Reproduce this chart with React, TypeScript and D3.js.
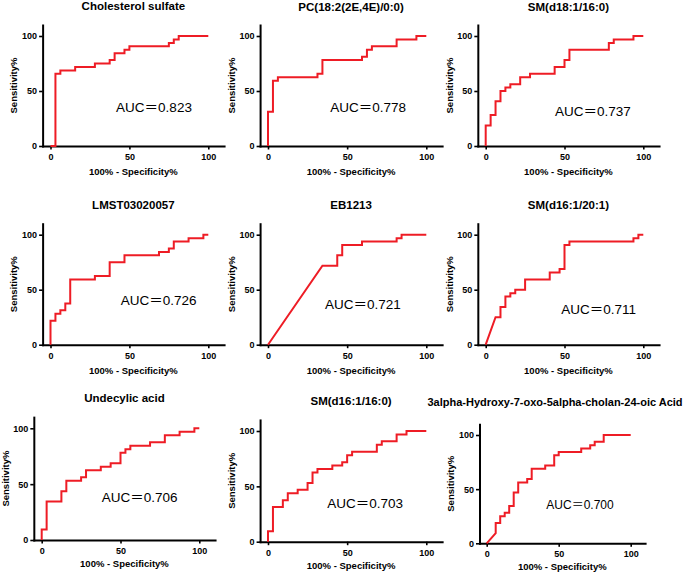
import React, { useEffect, useRef } from 'react';
import * as d3 from 'd3';

// ROC points: x = 100% - specificity%, y = sensitivity%
const cholesterolFpr = [0, 3.13, 3.13, 6.25, 6.25, 15.63, 15.63, 28.13, 28.13, 37.5, 37.5, 40.63, 40.63, 46.88, 46.88, 50, 50, 75, 75, 78.13, 78.13, 81.25, 81.25, 100];
const cholesterolTpr = [0, 0, 65.63, 65.63, 68.75, 68.75, 71.88, 71.88, 75, 75, 78.13, 78.13, 84.38, 84.38, 87.5, 87.5, 90.63, 90.63, 93.75, 93.75, 96.88, 96.88, 100, 100];

const pcFpr = [0, 0, 3.13, 3.13, 6.25, 6.25, 31.25, 31.25, 34.38, 34.38, 59.38, 59.38, 62.5, 62.5, 65.63, 65.63, 81.25, 81.25, 93.75, 93.75, 100];
const pcTpr = [0, 31.25, 31.25, 59.38, 59.38, 62.5, 62.5, 65.63, 65.63, 78.13, 78.13, 81.25, 81.25, 87.5, 87.5, 90.63, 90.63, 96.88, 96.88, 100, 100];

const sm181Fpr = [0, 0, 3.13, 3.13, 6.25, 6.25, 9.38, 9.38, 12.5, 12.5, 15.63, 15.63, 21.88, 21.88, 28.13, 28.13, 43.75, 43.75, 50, 50, 53.13, 53.13, 78.13, 78.13, 81.25, 81.25, 93.75, 93.75, 100];
const sm181Tpr = [0, 18.75, 18.75, 28.13, 28.13, 40.63, 40.63, 50, 50, 53.13, 53.13, 56.25, 56.25, 62.5, 62.5, 65.63, 65.63, 71.88, 71.88, 78.13, 78.13, 87.5, 87.5, 93.75, 93.75, 96.88, 96.88, 100, 100];

const lmstFpr = [0, 0, 3.13, 3.13, 6.25, 6.25, 9.38, 9.38, 12.5, 12.5, 28.13, 28.13, 37.5, 37.5, 46.88, 46.88, 68.75, 68.75, 75, 75, 78.13, 78.13, 87.5, 87.5, 96.88, 96.88, 100];
const lmstTpr = [0, 21.88, 21.88, 28.13, 28.13, 31.25, 31.25, 37.5, 37.5, 59.38, 59.38, 62.5, 62.5, 75, 75, 81.25, 81.25, 84.38, 84.38, 87.5, 87.5, 93.75, 93.75, 96.88, 96.88, 100, 100];

const ebFpr = [0, 34.38, 43.75, 43.75, 46.88, 46.88, 59.38, 59.38, 81.25, 81.25, 84.38, 84.38, 100];
const ebTpr = [0, 71.88, 71.88, 81.25, 81.25, 90.63, 90.63, 93.75, 93.75, 96.88, 96.88, 100, 100];

const sm161201Fpr = [0, 6.25, 9.38, 9.38, 12.5, 12.5, 15.63, 15.63, 18.75, 18.75, 25, 25, 40.63, 40.63, 46.88, 46.88, 50, 50, 53.13, 53.13, 93.75, 93.75, 96.88, 96.88, 100];
const sm161201Tpr = [0, 25, 25, 34.38, 34.38, 43.75, 43.75, 46.88, 46.88, 50, 50, 59.38, 59.38, 65.63, 65.63, 68.75, 68.75, 90.63, 90.63, 93.75, 93.75, 96.88, 96.88, 100, 100];

const undecylicFpr = [0, 0, 3.13, 3.13, 12.5, 12.5, 15.63, 15.63, 25, 25, 28.13, 28.13, 37.5, 37.5, 43.75, 43.75, 50, 50, 53.13, 53.13, 56.25, 56.25, 68.75, 68.75, 78.13, 78.13, 87.5, 87.5, 96.88, 96.88, 100];
const undecylicTpr = [0, 9.38, 9.38, 34.38, 34.38, 43.75, 43.75, 53.13, 53.13, 56.25, 56.25, 62.5, 62.5, 65.63, 65.63, 68.75, 68.75, 78.13, 78.13, 81.25, 81.25, 84.38, 84.38, 87.5, 87.5, 93.75, 93.75, 96.88, 96.88, 100, 100];

const sm161160Fpr = [0, 0, 3.13, 3.13, 9.38, 9.38, 12.5, 12.5, 18.75, 18.75, 25, 25, 28.13, 28.13, 31.25, 31.25, 40.63, 40.63, 46.88, 46.88, 50, 50, 53.13, 53.13, 68.75, 68.75, 71.88, 71.88, 81.25, 81.25, 87.5, 87.5, 100];
const sm161160Tpr = [0, 9.38, 9.38, 31.25, 31.25, 37.5, 37.5, 43.75, 43.75, 46.88, 46.88, 53.13, 53.13, 62.5, 62.5, 65.63, 65.63, 68.75, 68.75, 71.88, 71.88, 78.13, 78.13, 81.25, 81.25, 87.5, 87.5, 90.63, 90.63, 96.88, 96.88, 100, 100];

const cholanFpr = [0, 6.25, 6.25, 9.38, 9.38, 12.5, 12.5, 15.63, 15.63, 18.75, 18.75, 21.88, 21.88, 28.13, 28.13, 31.25, 31.25, 40.63, 40.63, 46.88, 46.88, 50, 50, 65.63, 65.63, 71.88, 71.88, 75, 75, 81.25, 81.25, 100];
const cholanTpr = [0, 9.38, 18.75, 18.75, 25, 25, 28.13, 28.13, 34.38, 34.38, 46.88, 46.88, 56.25, 56.25, 59.38, 59.38, 68.75, 68.75, 71.88, 71.88, 81.25, 81.25, 84.38, 84.38, 87.5, 87.5, 90.63, 90.63, 93.75, 93.75, 100, 100];

const titles = [
  'Cholesterol sulfate',
  'PC(18:2(2E,4E)/0:0)',
  'SM(d18:1/16:0)',
  'LMST03020057',
  'EB1213',
  'SM(d16:1/20:1)',
  'Undecylic acid',
  'SM(d16:1/16:0)',
  '3alpha-Hydroxy-7-oxo-5alpha-cholan-24-oic Acid',
];
const aucValues = ['0.823', '0.778', '0.737', '0.726', '0.721', '0.711', '0.706', '0.703', '0.700'];
const fprSeries = [cholesterolFpr, pcFpr, sm181Fpr, lmstFpr, ebFpr, sm161201Fpr, undecylicFpr, sm161160Fpr, cholanFpr];
const tprSeries = [cholesterolTpr, pcTpr, sm181Tpr, lmstTpr, ebTpr, sm161201Tpr, undecylicTpr, sm161160Tpr, cholanTpr];
const tickValues = [0, 50, 100];

// where each small plot sits on the page (pixel of x=0, width of 100%, pixel of y=0, height of 100%)
const layout = [
  { x0: 50.5, xw: 157.8, y0: 146, yh: 110, titleY: 10.3, aucX: 65.6, aucY: 35.2, gap: 29 },
  { x0: 268, xw: 158.3, y0: 146, yh: 110, titleY: 10.5, aucX: 63.2, aucY: 35.2, gap: 29 },
  { x0: 485.7, xw: 157.6, y0: 146, yh: 110, titleY: 10.5, aucX: 68, aucY: 32, gap: 29 },
  { x0: 50.5, xw: 157.8, y0: 344.7, yh: 110, titleY: 208.5, aucX: 68.6, aucY: 40, gap: 29 },
  { x0: 268, xw: 158.3, y0: 344.7, yh: 110, titleY: 208.5, aucX: 60, aucY: 37, gap: 29 },
  { x0: 485.7, xw: 157.6, y0: 344.7, yh: 110, titleY: 208.5, aucX: 71.6, aucY: 31.8, gap: 29 },
  { x0: 41.7, xw: 157.6, y0: 540, yh: 111.7, titleY: 401.6, aucX: 62.2, aucY: 38.2, gap: 27 },
  { x0: 268, xw: 158.3, y0: 541.7, yh: 110.7, titleY: 405.3, aucX: 61.3, aucY: 34.7, gap: 27 },
  { x0: 486.7, xw: 144, y0: 543.3, yh: 108.3, titleY: 406, aucX: 64.8, aucY: 35.4, gap: 27, titleCx: 555, titleSize: 11, aucSize: 12 },
];

const FONT = "'Liberation Sans', Arial, Helvetica, 'Noto Sans CJK SC', sans-serif";

export default function App() {
  const ref = useRef<SVGSVGElement>(null);

  useEffect(() => {
    const svg = d3.select(ref.current);
    svg.selectAll('*').remove();

    layout.forEach((p: any, i) => {
      const x = d3.scaleLinear().domain([-5, 110]).range([p.x0 - 5 * p.xw / 100, p.x0 + 110 * p.xw / 100]);
      const y = d3.scaleLinear().domain([0, 110]).range([p.y0, p.y0 - 110 * p.yh / 100]);
      const g = svg.append('g');

      // axes
      const xAxis = g.append('g')
        .attr('transform', `translate(0,${y(0)})`)
        .call(d3.axisBottom(x).tickValues(tickValues).tickSize(3.5).tickPadding(4).tickSizeOuter(0));
      const yAxis = g.append('g')
        .attr('transform', `translate(${x(-5)},0)`)
        .call(d3.axisLeft(y).tickValues(tickValues).tickSize(3.5).tickPadding(2).tickSizeOuter(0));
      [xAxis, yAxis].forEach(a => {
        a.attr('font-family', FONT).attr('font-size', 9).attr('font-weight', 'bold');
        a.select('.domain').attr('stroke', '#000').attr('stroke-width', 2).attr('stroke-linecap', 'square');
        a.selectAll('.tick line').attr('stroke', '#000').attr('stroke-width', 1.6);
        a.selectAll('.tick text').attr('fill', '#000');
      });

      // ROC curve
      const fpr = fprSeries[i];
      const tpr = tprSeries[i];
      const line = d3.line<number>()
        .x(k => x(fpr[k]))
        .y(k => y(tpr[k]));
      g.append('path')
        .attr('d', line(d3.range(fpr.length)))
        .attr('fill', 'none')
        .attr('stroke', '#ee1c25')
        .attr('stroke-width', 2)
        .attr('stroke-linejoin', 'miter');

      // title
      const cx = p.titleCx ?? (x(-5) + x(110)) / 2;
      g.append('text')
        .attr('x', cx)
        .attr('y', p.titleY)
        .attr('text-anchor', 'middle')
        .attr('font-family', FONT)
        .attr('font-weight', 'bold')
        .attr('font-size', p.titleSize ?? 11.5)
        .text(titles[i]);

      // axis labels
      g.append('text')
        .attr('x', (x(-5) + x(110)) / 2)
        .attr('y', y(0) + p.gap)
        .attr('text-anchor', 'middle')
        .attr('font-family', FONT)
        .attr('font-weight', 'bold')
        .attr('font-size', 9.5)
        .text('100% - Specificity%');
      const ly = (y(0) + y(110)) / 2;
      const lx = x(-5) - 28.5;
      g.append('text')
        .attr('transform', `translate(${lx},${ly}) rotate(-90)`)
        .attr('dy', '0.35em')
        .attr('text-anchor', 'middle')
        .attr('font-family', FONT)
        .attr('font-weight', 'bold')
        .attr('font-size', 9.5)
        .text('Sensitivity%');

      // AUC annotation
      g.append('text')
        .attr('x', x(p.aucX))
        .attr('y', y(p.aucY))
        .attr('dy', '0.35em')
        .attr('text-anchor', 'middle')
        .attr('font-family', FONT)
        .attr('font-size', p.aucSize ?? 13.5)
        .text(`AUC\uFF1D${aucValues[i]}`);
    });
  }, []);

  return (
    <svg ref={ref} width={685} height={574}
      style={{ position: 'absolute', left: 0, top: 0, background: '#fff' }} />
  );
}
